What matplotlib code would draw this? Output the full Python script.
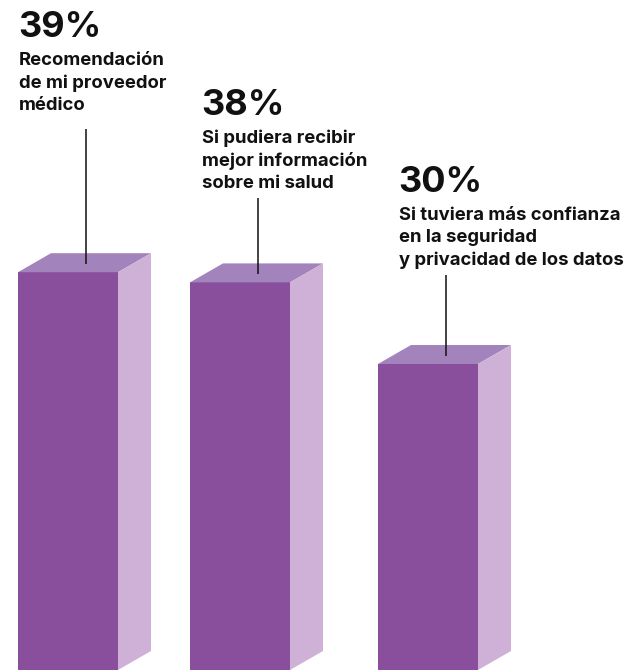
import matplotlib.pyplot as plt
from matplotlib.patches import Polygon

# Datos
valores = [39, 38, 30]
porcentajes = ['39%', '38%', '30%']
textos = [
    ['Recomendación', 'de mi proveedor', 'médico'],
    ['Si pudiera recibir', 'mejor información', 'sobre mi salud'],
    ['Si tuviera más confianza', 'en la seguridad', 'y privacidad de los datos'],
]

# Disposición en pixeles
W, H = 626, 672
bar_x = [18, 190, 378]
ancho = 100
prof_x, prof_y = 33, 19
base = 670
escala = 10.2  # px por punto porcentual
texto_x = [18, 201, 398]
pct_base = [37, 115, 192]
linea_ini = [129, 198, 275]

c_frente = '#8a4f9c'
c_techo = '#a283bb'
c_lado = '#cfb0d7'

fig = plt.figure(figsize=(W / 100, H / 100), dpi=100)
ax = fig.add_axes([0, 0, 1, 1])
ax.set_xlim(0, W)
ax.set_ylim(H, 0)
ax.axis('off')

for i, v in enumerate(valores):
    x0 = bar_x[i]
    x1 = x0 + ancho
    top = base - v * escala
    frente = Polygon([(x0, base), (x1, base), (x1, top), (x0, top)], fc=c_frente, ec='none')
    techo = Polygon([(x0, top), (x1, top), (x1 + prof_x, top - prof_y), (x0 + prof_x, top - prof_y)],
                    fc=c_techo, ec='none')
    lado = Polygon([(x1, base), (x1 + prof_x, base - prof_y), (x1 + prof_x, top - prof_y), (x1, top)],
                   fc=c_lado, ec='none')
    for p in (frente, techo, lado):
        ax.add_patch(p)

    # línea guía desde el texto hasta el techo de la barra
    lx = x0 + ancho / 2 + prof_x / 2 + 1
    ax.plot([lx, lx], [linea_ini[i], top - prof_y / 2 + 1], color='#111111', lw=1.1, solid_capstyle='butt')

    ax.text(texto_x[i], pct_base[i], porcentajes[i], fontsize=26, fontweight='bold',
            family='Inter', color='#111111', va='baseline', ha='left')
    for j, t in enumerate(textos[i]):
        ax.text(texto_x[i] + 1, pct_base[i] + 28 + j * 22.5, t, fontsize=13.3, fontweight='bold',
                family='Inter', color='#111111', va='baseline', ha='left')

fig.savefig('out.png', dpi=100)
